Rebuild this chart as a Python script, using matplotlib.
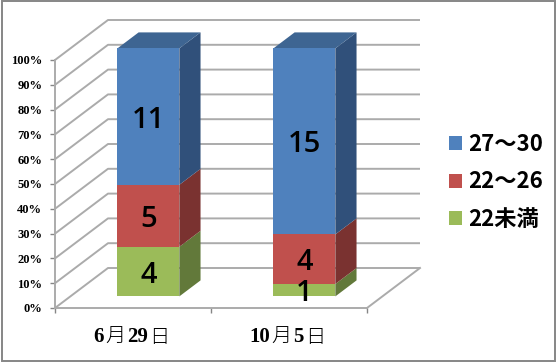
import matplotlib
matplotlib.use("Agg")
import matplotlib.pyplot as plt
from matplotlib.patches import Polygon, Rectangle
from matplotlib.offsetbox import TextArea, HPacker, AnnotationBbox

W, H = 556, 363
dates = [("6", "月", "29", "日"), ("10", "月", "5", "日")]
series_names = ["22未満", "22～26", "27～30"]
counts_first = [4, 5, 11]
counts_second = [1, 4, 15]
face_colors = ["#9BBB59", "#C0504D", "#4F81BD"]
top_colors = ["#7C9647", "#9A403E", "#3E6592"]
side_colors = ["#62793A", "#7A3230", "#30507A"]
y_ticks = [0, 10, 20, 30, 40, 50, 60, 70, 80, 90, 100]

GRID = "#ABABAB"
TEXT = "#000000"
SERIF = "Liberation Serif"
CJK = "Noto Sans CJK JP"

fig = plt.figure(figsize=(W / 100, H / 100), dpi=100, facecolor="white")
L, R, B, T = 55, 367, 308, 60
ax = fig.add_axes([L / W, 1 - B / H, (R - L) / W, (B - T) / H])
ax.set_xlim(0, 2)
ax.set_ylim(0, 100)
ax.patch.set_visible(False)

DX = 53 / ((R - L) / 2)
DY = 40 / ((B - T) / 100)


def proj(x, y, d):
    return (x + d * DX, y + d * DY)


# walls and floor
for v in y_ticks:
    ax.plot([proj(0, v, 0)[0], proj(0, v, 1)[0], proj(2, v, 1)[0]],
            [proj(0, v, 0)[1], proj(0, v, 1)[1], proj(2, v, 1)[1]],
            color=GRID, lw=1.4, clip_on=False, zorder=1, solid_capstyle="butt")
ax.plot([2, proj(2, 0, 1)[0]], [0, proj(2, 0, 1)[1]], color=GRID, lw=1.4,
        clip_on=False, zorder=1)

# stacked 3D bars
D0, D1 = 0.29, 0.69
BAR_W = 0.397
for i, vals in enumerate([counts_first, counts_second]):
    total = sum(vals)
    x0, x1 = i + 0.5 - BAR_W / 2, i + 0.5 + BAR_W / 2
    base = 0.0
    for j, v in enumerate(vals):
        y0 = base / total * 100
        base += v
        y1 = base / total * 100
        ax.add_patch(Polygon([proj(x1, y0, D0), proj(x1, y0, D1), proj(x1, y1, D1), proj(x1, y1, D0)],
                             fc=side_colors[j], ec="none", clip_on=False, zorder=3))
        ax.add_patch(Polygon([proj(x0, y0, D0), proj(x1, y0, D0), proj(x1, y1, D0), proj(x0, y1, D0)],
                             fc=face_colors[j], ec="none", clip_on=False, zorder=4))
        if j == len(vals) - 1:
            ax.add_patch(Polygon([proj(x0, y1, D0), proj(x1, y1, D0), proj(x1, y1, D1), proj(x0, y1, D1)],
                                 fc=top_colors[j], ec="none", clip_on=False, zorder=3))
        cx, cy = proj(i + 0.5, (y0 + y1) / 2, D0)
        ax.text(cx, cy, str(v), ha="center", va="center_baseline", fontsize=21,
                family="Open Sans", weight="semibold", color=TEXT, zorder=6, clip_on=False)

# axes
for s in ["top", "right"]:
    ax.spines[s].set_visible(False)
for s in ["left", "bottom"]:
    ax.spines[s].set_color(GRID)
    ax.spines[s].set_linewidth(1.4)
    ax.spines[s].set_zorder(2)
ax.set_yticks(y_ticks)
ax.set_yticklabels([f"{v}%" for v in y_ticks], family=SERIF, weight="bold", fontsize=9, color=TEXT)
ax.set_xticks([0, 1, 2])
ax.set_xticklabels([])
ax.tick_params(axis="both", length=3.6, width=1.0, color="#868686", pad=5.5)

# category labels: bold Latin digits with regular CJK, as runs on one baseline
for i, parts in enumerate(dates):
    runs = []
    for p in parts:
        if p.isdigit():
            runs.append(TextArea(p, textprops=dict(family=SERIF, weight="bold", fontsize=15, color=TEXT)))
        else:
            runs.append(TextArea(p, textprops=dict(family=CJK, weight="light", fontsize=14.5, color=TEXT)))
    box = HPacker(children=runs, align="baseline", pad=0, sep=1)
    ab = AnnotationBbox(box, (i + 0.5 - 0.012, (B - 337) / (B - T)), xycoords=ax.get_xaxis_transform(),
                        frameon=False, box_alignment=(0.5, 0.5), pad=0, annotation_clip=False)
    ax.add_artist(ab)

# legend
handles = [Rectangle((0, 0), 1, 1, fc=c, ec="none") for c in face_colors[::-1]]
leg = fig.legend(handles, series_names[::-1], loc="center left",
                 bbox_to_anchor=(449 / W, 1 - 182 / H), frameon=False,
                 prop={"family": CJK, "weight": "bold", "size": 16},
                 handlelength=0.6, handleheight=0.6, handletextpad=0.28,
                 labelspacing=0.66, borderpad=0, borderaxespad=0, labelcolor=TEXT)

# chart frame
fig.add_artist(Rectangle((1.5 / W, 1 - 361 / H), 553 / W, 360 / H, transform=fig.transFigure,
                         fc="none", ec="#868686", lw=1.4))

fig.savefig("out.png", dpi=100, facecolor="white")
